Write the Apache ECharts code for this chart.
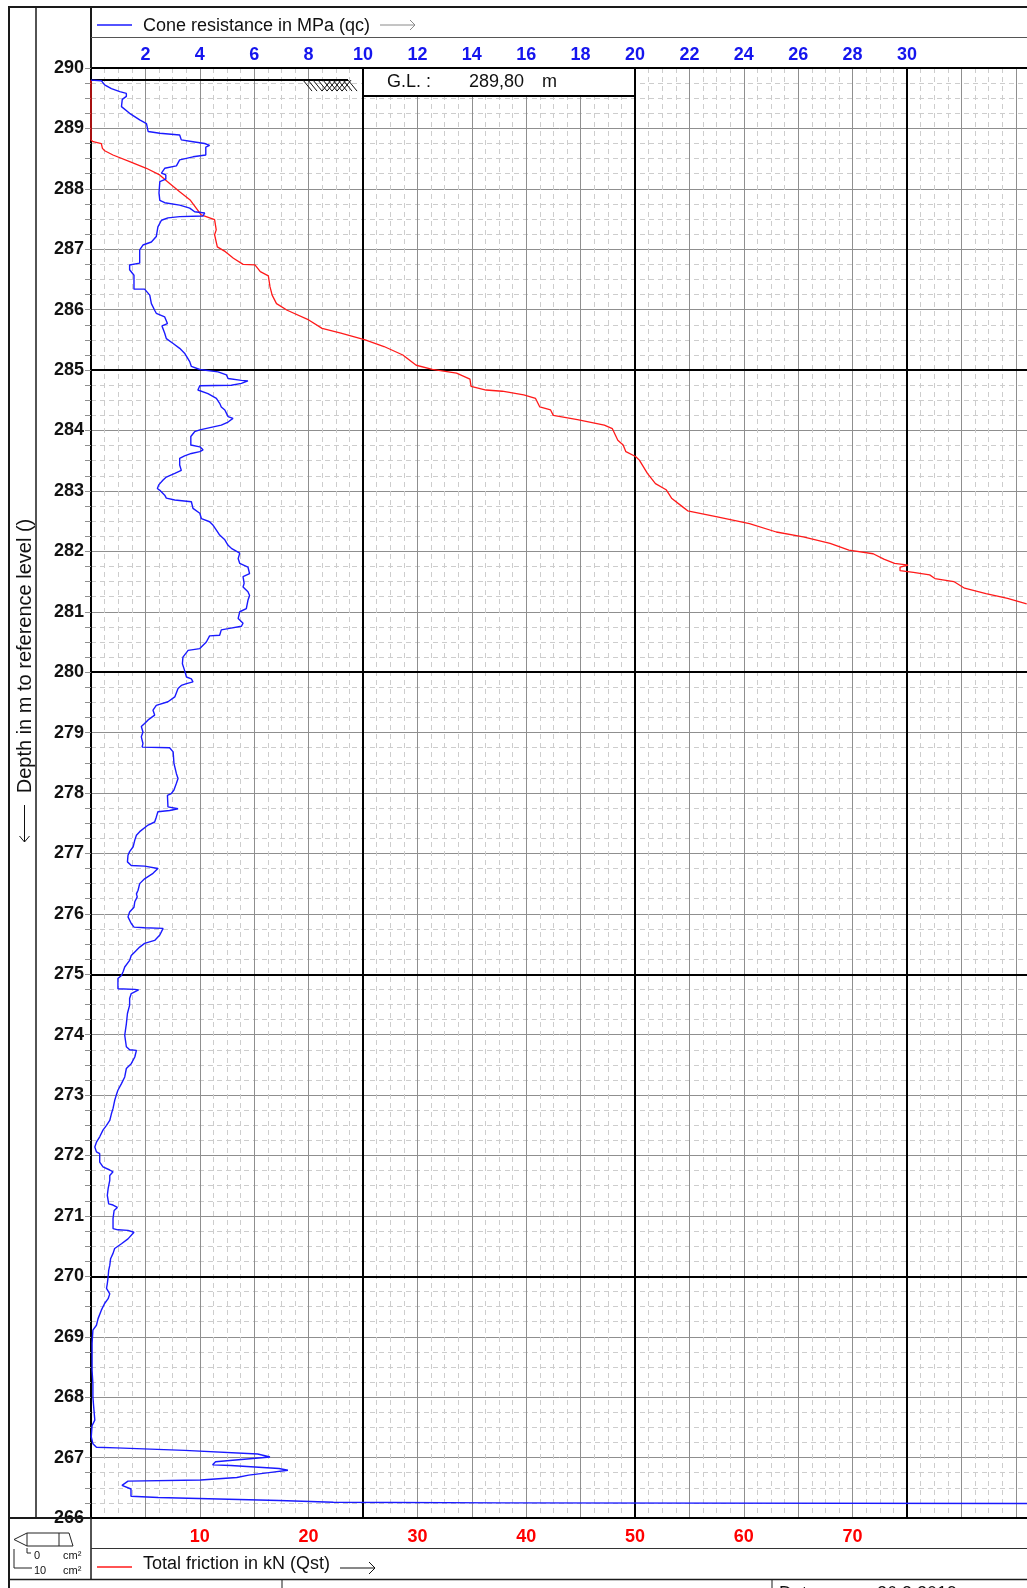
<!DOCTYPE html>
<html>
<head>
<meta charset="utf-8">
<title>CPT 289,80</title>
<script src="https://cdn.jsdelivr.net/npm/echarts@6/dist/echarts.min.js"></script>
<style>
  html, body { margin: 0; padding: 0; background: #ffffff; }
  #chart { width: 1027px; height: 1588px; }
</style>
</head>
<body>
<div id="chart"></div>
<script>
// ---- Sounding data -------------------------------------------------------
// Cone resistance qc: [depth (m, reference level), qc (MPa)]
const qcProfile = [
  [289.80,0.00],[289.79,0.38],[289.72,0.50],[289.66,0.75],[289.61,1.06],[289.58,1.30],[289.53,1.30],
  [289.48,1.15],[289.36,1.12],[289.25,1.42],[289.14,1.79],[289.08,2.04],[288.95,2.10],[288.92,2.53],
  [288.89,3.26],[288.81,3.32],[288.78,3.75],[288.75,4.18],[288.72,4.36],[288.69,4.22],[288.56,4.22],
  [288.53,3.75],[288.48,3.26],[288.38,3.14],[288.34,2.71],[288.26,2.59],[288.23,2.75],[288.16,2.75],
  [288.12,2.53],[287.93,2.50],[287.81,2.53],[287.77,2.71],[287.73,3.26],[287.68,3.63],[287.62,3.81],
  [287.60,4.18],[287.55,4.12],[287.54,3.26],[287.52,2.83],[287.48,2.59],[287.37,2.46],[287.21,2.40],
  [287.12,2.22],[287.07,1.91],[286.99,1.79],[286.77,1.79],[286.74,1.42],[286.66,1.42],[286.57,1.58],
  [286.34,1.58],[286.34,1.97],[286.24,2.16],[286.10,2.22],[285.99,2.34],[285.94,2.40],[285.88,2.71],
  [285.77,2.81],[285.73,2.61],[285.61,2.71],[285.52,2.77],[285.44,3.02],[285.36,3.26],[285.28,3.44],
  [285.14,3.63],[285.06,3.69],[285.01,4.00],[284.97,4.67],[284.92,4.98],[284.86,5.04],[284.83,5.53],
  [284.82,5.77],[284.78,5.53],[284.75,5.16],[284.74,4.00],[284.67,3.93],[284.61,4.30],[284.53,4.61],
  [284.45,4.73],[284.39,4.79],[284.34,4.92],[284.23,5.04],[284.20,5.22],[284.17,5.28],[284.14,5.04],
  [284.09,4.79],[284.01,4.00],[283.98,3.81],[283.90,3.67],[283.76,3.67],[283.73,4.00],[283.68,4.12],
  [283.65,4.00],[283.62,3.69],[283.58,3.44],[283.54,3.26],[283.43,3.26],[283.34,3.32],[283.29,3.08],
  [283.23,2.77],[283.18,2.65],[283.10,2.49],[283.04,2.44],[283.01,2.53],[282.93,2.71],[282.88,2.77],
  [282.85,3.08],[282.82,3.69],[282.71,3.75],[282.63,4.00],[282.54,4.06],[282.49,4.36],[282.43,4.49],
  [282.35,4.61],[282.27,4.73],[282.19,4.92],[282.10,5.04],[282.05,5.16],[281.97,5.47],[281.88,5.41],
  [281.80,5.47],[281.74,5.77],[281.63,5.83],[281.58,5.59],[281.47,5.63],[281.41,5.59],[281.33,5.77],
  [281.27,5.83],[281.19,5.77],[281.05,5.71],[281.00,5.47],[280.89,5.41],[280.81,5.59],[280.76,5.53],
  [280.72,5.04],[280.70,4.79],[280.61,4.73],[280.60,4.36],[280.50,4.24],[280.39,4.00],[280.36,3.57],
  [280.25,3.38],[280.14,3.36],[280.03,3.44],[279.92,3.51],[279.89,3.69],[279.84,3.75],[279.81,3.51],
  [279.78,3.32],[279.73,3.20],[279.59,3.08],[279.51,2.83],[279.45,2.40],[279.37,2.28],[279.29,2.34],
  [279.21,2.10],[279.15,1.97],[279.10,1.85],[279.01,1.91],[278.93,1.85],[278.82,1.91],[278.76,1.88],
  [278.75,2.89],[278.68,3.02],[278.49,3.05],[278.32,3.14],[278.24,3.20],[278.16,3.14],[278.05,3.05],
  [277.99,2.95],[277.96,2.81],[277.77,2.83],[277.74,3.20],[277.71,2.89],[277.69,2.46],[277.60,2.40],
  [277.52,2.34],[277.47,2.10],[277.36,1.79],[277.30,1.67],[277.22,1.61],[277.11,1.55],[277.03,1.42],
  [276.97,1.36],[276.86,1.34],[276.80,1.48],[276.79,1.97],[276.75,2.46],[276.67,2.28],[276.58,1.97],
  [276.50,1.79],[276.39,1.73],[276.33,1.67],[276.28,1.70],[276.20,1.61],[276.11,1.58],[276.03,1.42],
  [275.95,1.36],[275.84,1.48],[275.78,1.58],[275.77,1.97],[275.76,2.65],[275.65,2.53],[275.56,2.34],
  [275.51,1.97],[275.45,1.79],[275.37,1.61],[275.31,1.48],[275.23,1.42],[275.12,1.24],[275.04,1.18],
  [274.98,1.12],[274.93,0.99],[274.76,0.99],[274.75,1.61],[274.74,1.75],[274.68,1.48],[274.60,1.42],
  [274.49,1.42],[274.35,1.34],[274.18,1.30],[273.99,1.24],[273.80,1.30],[273.75,1.42],[273.74,1.67],
  [273.63,1.61],[273.52,1.48],[273.44,1.30],[273.30,1.24],[273.19,1.12],[273.08,0.99],[273.00,0.93],
  [272.91,0.87],[272.78,0.81],[272.69,0.75],[272.58,0.69],[272.50,0.57],[272.42,0.44],[272.31,0.32],
  [272.22,0.20],[272.14,0.14],[272.06,0.20],[272.03,0.32],[271.89,0.32],[271.81,0.44],[271.76,0.69],
  [271.73,0.81],[271.67,0.69],[271.59,0.69],[271.45,0.63],[271.34,0.60],[271.20,0.65],[271.18,0.81],
  [271.14,0.97],[271.09,0.85],[270.96,0.81],[270.79,0.81],[270.77,0.99],[270.76,1.36],[270.73,1.58],
  [270.62,1.36],[270.54,1.12],[270.46,0.87],[270.38,0.81],[270.29,0.72],[270.18,0.69],[270.10,0.65],
  [269.99,0.63],[269.88,0.60],[269.80,0.57],[269.71,0.69],[269.63,0.63],[269.55,0.50],[269.44,0.38],
  [269.30,0.26],[269.19,0.20],[269.11,0.07],[268.89,0.04],[268.67,0.04],[268.44,0.04],[268.22,0.07],
  [268.00,0.07],[267.78,0.11],[267.62,0.14],[267.53,0.04],[267.34,0.01],[267.23,0.07],[267.17,0.20],
  [267.16,0.93],[267.12,3.44],[267.06,6.13],[267.01,6.58],[266.93,4.58],[266.88,4.47],[266.87,5.14],
  [266.82,6.91],[266.79,7.24],[266.76,6.69],[266.71,5.80],[266.67,5.36],[266.63,4.03],[266.61,1.36],
  [266.54,1.14],[266.48,1.47],[266.36,1.47],[266.34,2.47],[266.29,6.91],[266.26,8.91],[266.25,15.10],
  [266.24,35.50]
];

// Total friction Qst: [depth (m, reference level), Qst (kN)]
const qstProfile = [
  [289.80,0.00],[288.81,0.00],[288.78,0.19],[288.75,0.95],[288.67,1.05],[288.63,1.26],[288.56,2.02],
  [288.45,3.56],[288.34,5.09],[288.23,6.31],[288.09,7.23],[287.95,8.15],[287.81,9.14],[287.57,10.13],
  [287.49,11.36],[287.32,11.51],[287.24,11.36],[287.04,11.61],[286.96,12.35],[286.85,13.09],
  [286.75,13.98],[286.74,15.07],[286.63,15.56],[286.56,16.30],[286.38,16.45],[286.24,16.65],
  [286.10,17.05],[285.99,18.03],[285.83,20.01],[285.69,21.24],[285.61,22.97],[285.50,25.20],
  [285.39,26.93],[285.25,28.66],[285.08,29.89],[285.01,31.37],[284.95,33.60],[284.85,34.83],
  [284.73,34.93],[284.67,36.31],[284.65,37.80],[284.59,39.77],[284.53,40.86],[284.39,41.25],
  [284.34,42.24],[284.25,42.49],[284.18,44.71],[284.09,47.18],[284.03,47.92],[283.84,48.42],
  [283.76,48.91],[283.65,49.16],[283.57,50.05],[283.51,50.40],[283.29,51.14],[283.12,51.88],
  [283.02,52.86],[282.88,53.36],[282.74,54.35],[282.67,54.84],[282.57,57.56],[282.46,60.52],
  [282.32,62.99],[282.24,65.46],[282.13,67.93],[282.02,69.66],[281.96,71.89],[281.87,72.87],
  [281.80,73.86],[281.77,75.10],[281.74,74.36],[281.68,74.36],[281.65,75.59],[281.61,77.08],
  [281.55,77.57],[281.50,79.30],[281.39,80.29],[281.30,82.26],[281.22,84.24],[281.13,86.00]
];

// Axis ticks and labels
const qcTickLabels = [2, 4, 6, 8, 10, 12, 14, 16, 18, 20, 22, 24, 26, 28, 30];
const qstTickLabels = [10, 20, 30, 40, 50, 60, 70];
const heavyQcLines = [10, 20, 30];
const heavyDepthLines = [270, 275, 280, 285];
const groundLevel = 289.80;

// ---- Layout --------------------------------------------------------------
const FONT = '"Liberation Sans", Arial, Helvetica, sans-serif';
const PX_PER_MPA = 27.2;
const QC_MAX = 36;            // MPa across the full drawing strip
const QST_PER_MPA = 2.5;      // 10 kN of friction drawn over 4 MPa
const GL_MARK_END = 9.45;     // MPa, end of the ground-level stroke

const chart = echarts.init(document.getElementById('chart'), null, { renderer: 'canvas' });

const minorDash = { color: '#cdcdcd', width: 1, type: [5, 4] };
const majorGrid = { color: '#8f8f8f', width: 1 };

chart.setOption({
  animation: false,
  backgroundColor: '#ffffff',
  grid: {
    left: 91, top: 68, width: QC_MAX * PX_PER_MPA, height: 1450,
    containLabel: false, outerBoundsMode: 'none'
  },
  xAxis: [
    {
      type: 'value', position: 'top', min: 0, max: QC_MAX, interval: 2,
      axisLine: { show: true, onZero: false, lineStyle: { color: '#000', width: 2 } },
      axisTick: { show: false },
      axisLabel: {
        margin: 4, color: '#1515ee', fontWeight: 'bold', fontSize: 18, fontFamily: FONT,
        formatter: v => (qcTickLabels.indexOf(v) >= 0 ? String(v) : '')
      },
      splitLine: { show: true, lineStyle: majorGrid },
      minorTick: { show: false, splitNumber: 4 },
      minorSplitLine: { show: true, lineStyle: minorDash }
    },
    {
      type: 'value', position: 'bottom', min: 0, max: QC_MAX * QST_PER_MPA, interval: 10,
      axisLine: { show: true, onZero: false, lineStyle: { color: '#000', width: 2 } },
      axisTick: { show: false },
      axisLabel: {
        margin: 10, color: '#ff0000', fontWeight: 'bold', fontSize: 18, fontFamily: FONT,
        formatter: v => (qstTickLabels.indexOf(v) >= 0 ? String(v) : '')
      },
      splitLine: { show: false }
    }
  ],
  yAxis: {
    type: 'value', position: 'left', min: 266, max: 290, interval: 1,
    axisLine: { show: true, onZero: false, lineStyle: { color: '#000', width: 2 } },
    axisTick: { show: true, length: 6, lineStyle: { color: '#8f8f8f' } },
    minorTick: { show: true, splitNumber: 4, length: 6, lineStyle: { color: '#8f8f8f' } },
    axisLabel: { margin: 7, color: '#111', fontWeight: 'bold', fontSize: 18, fontFamily: FONT },
    splitLine: { show: true, lineStyle: majorGrid },
    minorSplitLine: { show: true, lineStyle: minorDash }
  },
  series: [
    {
      // heavy grid lines every 10 MPa / 5 m and the ground-level stroke
      type: 'line', data: [], xAxisIndex: 0, yAxisIndex: 0, silent: true, z: 3,
      markLine: {
        silent: true, symbol: 'none', animation: false,
        label: { show: false },
        lineStyle: { color: '#000', width: 2, type: 'solid' },
        emphasis: { disabled: true },
        data: [
          ...heavyQcLines.map(v => ({ xAxis: v })),
          ...heavyDepthLines.map(v => ({ yAxis: v })),
          [{ coord: [0, groundLevel] }, { coord: [GL_MARK_END, groundLevel] }]
        ]
      }
    },
    {
      name: 'Cone resistance in MPa (qc)', type: 'line', xAxisIndex: 0, yAxisIndex: 0,
      data: qcProfile.map(p => [p[1], p[0]]),
      showSymbol: false, symbol: 'none', z: 6,
      lineStyle: { color: '#1a1aff', width: 1.4 }
    },
    {
      name: 'Total friction in kN (Qst)', type: 'line', xAxisIndex: 1, yAxisIndex: 0,
      data: qstProfile.map(p => [p[1], p[0]]),
      showSymbol: false, symbol: 'none', z: 5,
      lineStyle: { color: '#ff1a1a', width: 1.3 }
    }
  ]
});

// ---- Frame, legends and annotations ---------------------------------------
function line(x1, y1, x2, y2, w, c) {
  return { type: 'line', silent: true, z: 50,
    shape: { x1, y1, x2, y2 }, style: { stroke: c || '#1a1a1a', lineWidth: w || 1 } };
}
function poly(points, w, c, closed) {
  return { type: closed ? 'polygon' : 'polyline', silent: true, z: 50,
    shape: { points }, style: { stroke: c || '#1a1a1a', lineWidth: w || 1, fill: closed ? 'none' : null } };
}
function text(str, x, y, size, opts) {
  opts = opts || {};
  return { type: 'text', silent: true, z: 60, x, y, rotation: opts.rotation || 0,
    style: { text: str, x: 0, y: 0, fill: opts.color || '#111',
      font: (opts.weight || 'normal') + ' ' + size + 'px ' + FONT,
      fontSize: size, fontFamily: FONT, fontWeight: opts.weight || 'normal',
      align: opts.align || 'left', verticalAlign: opts.valign || 'middle',
      textAlign: opts.align || 'left', textVerticalAlign: opts.valign || 'middle' } };
}

const W = 1027;
const g = [];
// outer frame and cell borders
g.push(line(9, 6, 9, 1588, 2));
g.push(line(9, 7, W, 7, 2));
g.push(line(36, 7, 36, 1518, 1.5));
g.push(line(91, 7, 91, 68, 2));
g.push(line(91, 1518, 91, 1579, 1.5));
g.push(line(91, 37.5, W, 37.5, 1, '#555'));
g.push(line(9, 1518, 91, 1518, 2));
g.push(line(91, 1548.5, W, 1548.5, 1, '#333'));
g.push(line(9, 1579.5, W, 1579.5, 1.5));
g.push(line(282, 1579, 282, 1588, 1));
g.push(line(772, 1579, 772, 1588, 1));

// top legend: cone resistance
g.push(line(97, 25, 132, 25, 1.6, '#1a1aff'));
g.push(text('Cone resistance in MPa (qc)', 143, 26, 18));
g.push(line(380, 25, 415, 25, 1, '#8a8a8a'));
g.push(poly([[410, 20], [415, 25], [410, 30]], 1, '#8a8a8a'));

// bottom legend: total friction
g.push(line(97, 1567, 132, 1567, 1.6, '#ff1a1a'));
g.push(text('Total friction in kN (Qst)', 143, 1564, 18));
g.push(line(340, 1568, 375, 1568, 1, '#111'));
g.push(poly([[369, 1562], [375, 1568], [369, 1574]], 1, '#111'));

// depth axis title with downward arrow
g.push(text('Depth in m to reference level ()', 25, 656, 20, { align: 'center', rotation: Math.PI / 2 }));
g.push(line(24.5, 805, 24.5, 842, 1, '#111'));
g.push(poly([[19.5, 836], [24.5, 842], [29.5, 836]], 1, '#111'));

// cone sketch with area notes
g.push(poly([[27, 1533], [69, 1533], [73, 1546], [27, 1546]], 1, '#222', true));
g.push(poly([[27, 1533], [14, 1539.5], [27, 1546]], 1, '#222'));
g.push(line(59, 1533, 59, 1546, 1, '#222'));
g.push(poly([[27, 1548], [27, 1553], [31, 1553]], 1, '#222'));
g.push(poly([[14, 1549], [14, 1568], [32, 1568]], 1, '#222'));
g.push(text('0', 34, 1556, 11));
g.push(text('cm²', 63, 1556, 11));
g.push(text('10', 34, 1571, 11));
g.push(text('cm²', 63, 1571, 11));

// footer row
g.push(text('Date :', 779, 1585, 18, { valign: 'top' }));
g.push(text('26.3.2019', 877, 1585, 18, { valign: 'top' }));

// ground-level box and hatching, placed from the axis scales
const toPx = p => chart.convertToPixel({ xAxisIndex: 0, yAxisIndex: 0 }, p);
const b0 = toPx([10, 290]);
const b1 = toPx([20, 290]);
g.push({ type: 'rect', silent: true, z: 40,
  shape: { x: b0[0], y: b0[1], width: b1[0] - b0[0], height: 28 },
  style: { fill: '#ffffff', stroke: '#000', lineWidth: 2 } });
const glText = groundLevel.toFixed(2).replace('.', ',');
g.push(text('G.L. :', b0[0] + 24, b0[1] + 14, 18));
g.push(text(glText, b0[0] + 161, b0[1] + 14, 18, { align: 'right' }));
g.push(text('m', b0[0] + 179, b0[1] + 14, 18));

const gl = toPx([GL_MARK_END, groundLevel]);
for (let i = 0; i < 10; i++) {
  const x = gl[0] - 45 + 5 * i;
  g.push(line(x, gl[1], x + 9, gl[1] + 11, 1, '#111'));
}
for (let i = 0; i < 5; i++) {
  const x = gl[0] - 26 + 5 * i;
  g.push(line(x, gl[1] + 11, x + 9, gl[1], 1, '#111'));
}

chart.setOption({ graphic: { elements: g } });
</script>
</body>
</html>
